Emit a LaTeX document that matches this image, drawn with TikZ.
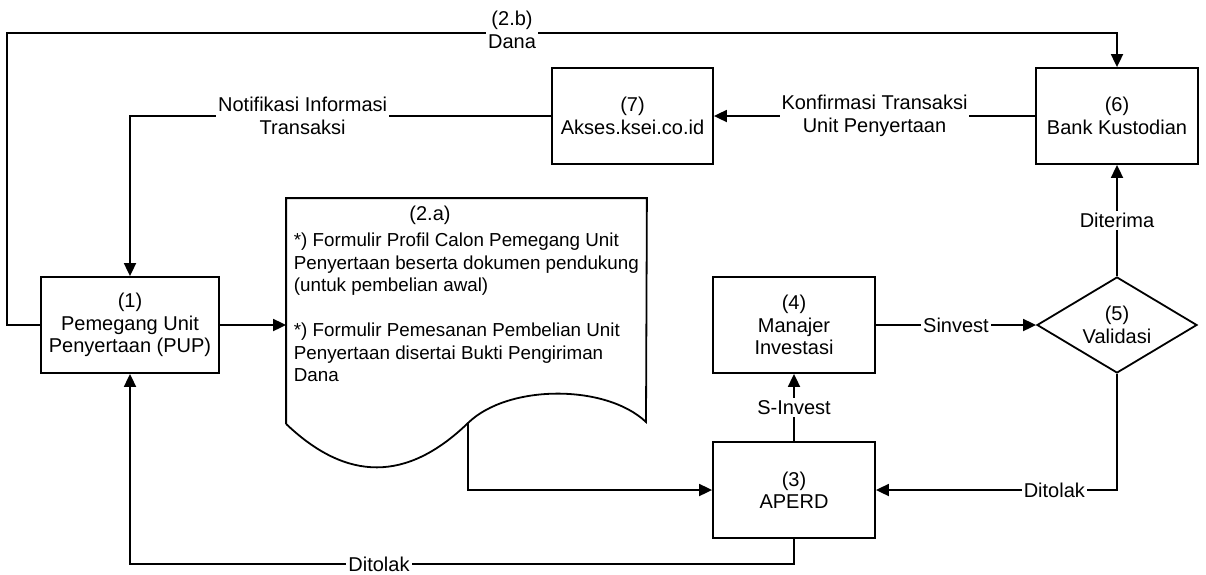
\documentclass[tikz,border=0pt]{standalone}
\usepackage{fontspec}
\setmainfont{Liberation Sans}
\usetikzlibrary{%
  shapes.geometric,%
  arrows.meta%
}

\tikzset{
  proc/.style={draw, align=center, inner sep=0pt, minimum width=81pt, minimum height=48pt},
  lbl/.style={fill=white, align=center, inner sep=1pt},
}

\begin{document}
\begin{tikzpicture}[x=0.5pt, y=-0.5pt, line width=0.9pt, >={Triangle[length=6.5pt,width=6pt]},
  font=\fontsize{10pt}{11.25pt}\selectfont]

\useasboundingbox (0,0) rectangle (1206,574);

\node[proc, minimum width=89pt] (pup) at (130,325) {(1)\\Pemegang Unit\\Penyertaan (PUP)};
\node[proc, minimum width=80.5pt] (akses) at (632.5,116) {(7)\\Akses.ksei.co.id};
\node[proc] (bank) at (1117,116) {(6)\\Bank Kustodian};
\node[proc] (mi) at (794,325) {(4)\\Manajer\\Investasi};
\node[proc] (aperd) at (794,490) {(3)\\APERD};
\node[draw, diamond, aspect=1.667, inner sep=0pt, minimum width=80pt, minimum height=48pt, align=center] (valid) at (1117,325) {(5)\\Validasi};
%
\node[inner sep=0pt, minimum width=179.5pt, minimum height=112pt] (doc) at (466.5,311) {};
\draw (doc.south west) -- (doc.north west) -- (doc.north east) -- (646,422)
  .. controls (606,384) and (508,384) .. (468,423)
  .. controls (407,482) and (347,482) .. (doc.south west);
\node (docttl) at (430,215) {(2.a)};
\node[align=left, anchor=west, inner sep=0pt, font=\fontsize{9.4pt}{11.25pt}\selectfont] (doctxt) at (293,307.5)
  {*) Formulir Profil Calon Pemegang Unit\\Penyertaan beserta dokumen pendukung\\(untuk pembelian awal)\\[11.25pt]{}*) Formulir Pemesanan Pembelian Unit\\Penyertaan disertai Bukti Pengiriman\\Dana};
\coordinate (docout) at (468,423);
\coordinate (tl) at (7,33);
%
\draw[->] (pup.west) -| (tl) -- node[lbl, pos=0.455, yshift=1.5pt] {(2.b)\\Dana} (tl -| bank.north) -- (bank.north);
\draw[->] (bank) -- node[lbl] {Konfirmasi Transaksi\\Unit Penyertaan} (akses);
\draw[->] (akses) -| node[lbl, pos=0.295] {Notifikasi Informasi\\Transaksi} (pup);
\draw[->] (pup) -- (pup.east -| doc.west);
\draw[->] (docout) |- (aperd);
\draw[->] (aperd) -- node[lbl] {S-Invest} (mi);
\draw[->] (mi) -- node[lbl] {Sinvest} (valid);
\draw[->] (valid) -- node[lbl] {Diterima} (bank);
\draw[->] (valid) |- node[lbl, pos=0.63] {Ditolak} (aperd);
\draw[->] (aperd.south) -- ++(0,25) -| node[lbl, pos=0.3125] {Ditolak} (pup);
\end{tikzpicture}
\end{document}
